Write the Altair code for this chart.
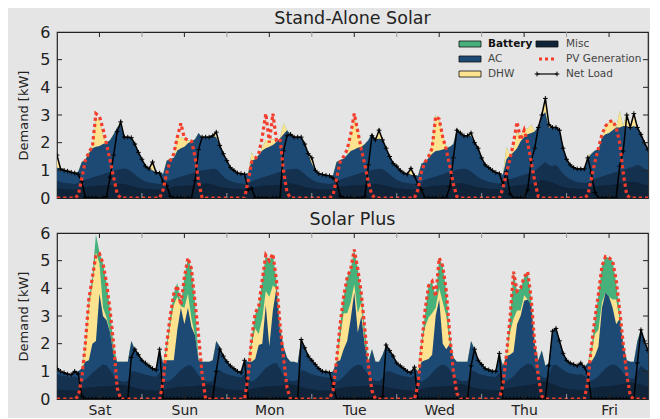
import altair as alt
import pandas as pd

# ---------------- data (hourly, one week starting Saturday 00:00) ----------------
DAY_NAMES = ["Sat", "Sun", "Mon", "Tue", "Wed", "Thu", "Fri"]
HOURS = list(range(168))
Y_TICKS = [0, 1, 2, 3, 4, 5, 6]
NOON_TICKS = [12, 36, 60, 84, 108, 132, 156]
MIDNIGHT_TICKS = [24, 48, 72, 96, 120, 144]
INNER_Y_TICKS = [1, 2, 3, 4, 5]

# bottom (darkest) load layer, shared by both panels [kW]
misc = [
    0.34, 0.33, 0.32, 0.32, 0.31, 0.31, 0.33, 0.37, 0.40, 0.42, 0.43, 0.44, 0.45, 0.46, 0.46, 0.47, 0.48, 0.50, 0.52, 0.50, 0.48, 0.45, 0.41, 0.37,
    0.35, 0.33, 0.32, 0.32, 0.31, 0.31, 0.32, 0.36, 0.39, 0.41, 0.43, 0.44, 0.45, 0.45, 0.46, 0.47, 0.49, 0.51, 0.53, 0.52, 0.49, 0.45, 0.41, 0.38,
    0.35, 0.34, 0.33, 0.32, 0.32, 0.31, 0.33, 0.37, 0.40, 0.42, 0.43, 0.45, 0.46, 0.46, 0.47, 0.48, 0.50, 0.52, 0.53, 0.51, 0.48, 0.44, 0.40, 0.37,
    0.35, 0.33, 0.32, 0.32, 0.31, 0.31, 0.33, 0.38, 0.41, 0.42, 0.44, 0.45, 0.45, 0.46, 0.47, 0.48, 0.49, 0.51, 0.52, 0.50, 0.47, 0.44, 0.41, 0.38,
    0.35, 0.34, 0.33, 0.32, 0.31, 0.31, 0.32, 0.37, 0.40, 0.42, 0.43, 0.44, 0.45, 0.46, 0.46, 0.47, 0.49, 0.52, 0.54, 0.52, 0.49, 0.45, 0.41, 0.38,
    0.36, 0.34, 0.33, 0.32, 0.32, 0.31, 0.33, 0.38, 0.41, 0.43, 0.45, 0.47, 0.48, 0.50, 0.52, 0.55, 0.60, 0.65, 0.62, 0.58, 0.55, 0.50, 0.44, 0.40,
    0.37, 0.35, 0.34, 0.33, 0.32, 0.32, 0.34, 0.38, 0.41, 0.43, 0.45, 0.46, 0.47, 0.48, 0.50, 0.52, 0.55, 0.58, 0.60, 0.58, 0.56, 0.52, 0.48, 0.45,
]

# ---- Stand-Alone Solar ----
up_base = [
    0.62, 0.58, 0.55, 0.53, 0.52, 0.51, 0.53, 0.60, 0.66, 0.70, 0.74, 0.78, 0.82, 0.86, 0.90, 0.94, 0.98, 1.02, 1.05, 1.07, 1.05, 0.95, 0.85, 0.74,
    0.66, 0.60, 0.56, 0.54, 0.52, 0.51, 0.52, 0.60, 0.65, 0.70, 0.73, 0.77, 0.81, 0.85, 0.89, 0.93, 0.97, 1.00, 1.02, 1.04, 1.06, 1.05, 0.92, 0.78,
    0.68, 0.61, 0.57, 0.54, 0.52, 0.51, 0.53, 0.60, 0.66, 0.70, 0.74, 0.78, 0.82, 0.86, 0.90, 0.94, 0.98, 1.02, 1.04, 1.05, 1.06, 0.98, 0.86, 0.75,
    0.66, 0.60, 0.56, 0.54, 0.52, 0.51, 0.53, 0.61, 0.67, 0.71, 0.75, 0.79, 0.83, 0.87, 0.91, 0.95, 0.98, 1.01, 1.04, 1.06, 1.05, 0.97, 0.86, 0.75,
    0.66, 0.60, 0.56, 0.54, 0.52, 0.51, 0.52, 0.60, 0.66, 0.70, 0.74, 0.78, 0.82, 0.86, 0.90, 0.94, 0.98, 1.02, 1.05, 1.06, 1.04, 0.96, 0.86, 0.76,
    0.68, 0.62, 0.58, 0.55, 0.53, 0.52, 0.54, 0.62, 0.68, 0.72, 0.76, 0.80, 0.84, 0.88, 0.92, 0.98, 1.08, 1.20, 1.30, 1.18, 1.15, 1.20, 1.05, 0.88,
    0.76, 0.68, 0.62, 0.58, 0.56, 0.55, 0.56, 0.63, 0.69, 0.74, 0.78, 0.82, 0.86, 0.90, 0.94, 0.98, 1.02, 1.06, 1.10, 1.14, 1.20, 1.15, 1.05, 0.95,
]
up_ac = [
    1.10, 1.05, 1.00, 0.97, 0.93, 0.90, 0.95, 1.30, 1.38, 1.62, 1.80, 1.85, 1.88, 1.95, 2.00, 2.10, 2.30, 2.55, 2.65, 2.20, 2.20, 2.18, 1.95, 1.65,
    1.40, 1.15, 1.05, 1.00, 0.92, 0.90, 0.88, 1.35, 1.42, 1.45, 1.72, 1.80, 1.85, 1.98, 2.05, 2.12, 2.35, 2.20, 2.20, 2.20, 2.25, 2.20, 1.90, 1.60,
    1.35, 1.10, 1.00, 0.90, 0.88, 0.86, 0.90, 1.35, 1.40, 1.55, 1.72, 1.80, 1.85, 1.92, 2.02, 2.15, 2.30, 2.45, 2.30, 2.20, 2.20, 2.20, 1.95, 1.60,
    1.25, 1.00, 0.88, 0.85, 0.82, 0.80, 0.82, 1.30, 1.37, 1.42, 1.55, 1.70, 1.75, 1.82, 1.85, 1.95, 2.10, 2.35, 2.10, 2.15, 2.10, 1.80, 1.50, 1.25,
    1.15, 1.00, 0.90, 0.86, 0.85, 0.80, 0.80, 1.25, 1.30, 1.45, 1.60, 1.70, 1.72, 1.75, 1.80, 1.85, 1.95, 2.50, 2.35, 2.25, 2.25, 2.25, 2.00, 1.80,
    1.45, 1.20, 1.10, 1.00, 0.92, 0.88, 0.85, 1.40, 1.55, 1.65, 1.80, 2.05, 2.20, 2.30, 2.35, 2.40, 2.60, 3.00, 3.10, 2.55, 2.55, 2.55, 2.45, 1.80,
    1.40, 1.20, 1.10, 1.05, 1.05, 1.05, 1.45, 1.60, 1.72, 1.75, 2.20, 2.30, 2.35, 2.45, 2.55, 2.55, 2.60, 2.60, 2.55, 2.60, 2.55, 2.30, 2.00, 1.75,
]
up_dhw = [
    0.45, 0, 0, 0, 0, 0, 0, 0, 0, 0.05, 0.10, 1.00, 0.95, 0.30, 0, 0, 0, 0, 0.10, 0, 0, 0, 0, 0,
    0, 0, 0, 0.30, 0, 0, 0, 0, 0, 0, 0.50, 0.40, 0.30, 0.10, 0, 0, 0, 0, 0, 0, 0, 0.18, 0, 0,
    0, 0, 0, 0, 0, 0, 0, 0.30, 0, 0, 0.10, 0.30, 0.25, 0.20, 0, 0, 0.40, 0, 0, 0, 0, 0, 0, 0,
    0.20, 0, 0, 0, 0, 0, 0, 0, 0, 0, 0, 0.50, 1.20, 0.60, 0.10, 0, 0, 0, 0, 0.30, 0, 0, 0, 0,
    0, 0, 0, 0, 0.22, 0, 0, 0, 0, 0, 0.40, 1.30, 1.10, 0.50, 0.05, 0, 0, 0, 0, 0, 0, 0.10, 0, 0,
    0, 0, 0, 0, 0, 0, 0, 0.45, 0, 0.20, 0.60, 0.20, 0.30, 0.20, 0.30, 0, 0, 0, 0.50, 0.10, 0, 0, 0, 0,
    0, 0, 0, 0, 0, 0, 0.10, 0, 0, 0, 0, 0.30, 0.40, 0.35, 0, 0.60, 0, 0.50, 0, 0.45, 0, 0, 0, 0,
]
up_bat = [0] * 168
up_pv = [
    0, 0, 0, 0, 0, 0, 0.10, 0.70, 1.35, 1.65, 1.85, 3.05, 2.95, 2.50, 1.95, 1.35, 0.75, 0.15, 0, 0, 0, 0, 0, 0,
    0, 0, 0, 0, 0, 0, 0.30, 0.90, 1.35, 1.60, 2.20, 2.70, 2.15, 2.10, 2.05, 1.50, 0.60, 0, 0, 0, 0, 0, 0, 0,
    0, 0, 0, 0, 0, 0, 0.60, 1.30, 1.42, 1.60, 2.20, 3.05, 2.00, 3.05, 2.10, 2.15, 1.00, 0.20, 0, 0, 0, 0, 0, 0,
    0, 0, 0, 0, 0, 0, 0.10, 0.70, 1.30, 1.50, 1.75, 2.30, 3.05, 2.40, 1.75, 1.20, 0.55, 0.10, 0, 0, 0, 0, 0, 0,
    0, 0, 0, 0, 0, 0, 0.30, 0.95, 1.30, 1.50, 1.80, 2.95, 2.85, 2.20, 1.75, 1.15, 0.50, 0.05, 0, 0, 0, 0, 0, 0,
    0, 0, 0, 0, 0, 0, 0.35, 0.90, 1.40, 2.00, 2.75, 2.10, 2.45, 2.00, 1.30, 0.60, 0.05, 0, 0, 0, 0, 0, 0, 0,
    0, 0, 0, 0, 0, 0, 0.10, 0.70, 1.30, 1.80, 2.30, 2.60, 2.75, 2.80, 2.55, 2.00, 0.90, 0.10, 0, 0, 0, 0, 0, 0,
]
up_net = [
    1.55, 1.05, 1.00, 0.97, 0.93, 0.90, 0.85, 0.60, 0.03, 0, 0, 0, 0, 0, 0.05, 0.75, 1.55, 2.40, 2.75, 2.20, 2.20, 2.18, 1.95, 1.65,
    1.40, 1.15, 1.05, 1.30, 0.92, 0.90, 0.58, 0.45, 0.07, 0, 0, 0, 0, 0, 0, 0.62, 1.75, 2.20, 2.20, 2.20, 2.25, 2.38, 1.90, 1.60,
    1.35, 1.10, 1.00, 0.90, 0.88, 0.86, 0.30, 0.35, 0, 0, 0, 0, 0, 0, 0, 0, 1.70, 2.25, 2.30, 2.20, 2.20, 2.20, 1.95, 1.60,
    1.45, 1.00, 0.88, 0.85, 0.82, 0.80, 0.72, 0.60, 0.07, 0, 0, 0, 0, 0, 0, 0.05, 1.20, 2.25, 2.10, 2.45, 2.10, 1.80, 1.50, 1.25,
    1.15, 1.00, 0.90, 0.86, 1.07, 0.80, 0.50, 0.30, 0, 0, 0, 0, 0, 0, 0, 0.40, 1.45, 2.45, 2.35, 2.25, 2.25, 2.35, 2.00, 1.80,
    1.45, 1.20, 1.10, 1.00, 0.92, 0.88, 0.50, 0.95, 0.15, 0, 0, 0, 0, 0.30, 1.35, 1.80, 2.55, 3.00, 3.60, 2.65, 2.55, 2.55, 2.45, 1.80,
    1.40, 1.20, 1.10, 1.05, 1.05, 1.05, 1.45, 0.90, 0.20, 0, 0, 0, 0, 0, 0, 1.15, 1.70, 3.00, 2.55, 3.05, 2.55, 2.30, 2.00, 1.75,
]

# ---- Solar Plus ----
lo_base = [
    0.90, 0.86, 0.83, 0.80, 0.78, 0.82, 0.72, 0.62, 0.70, 0.80, 0.95, 1.05, 1.15, 1.25, 1.22, 1.05, 0.85, 0.70, 0.65, 0.62, 0.65, 1.00, 1.00, 0.95,
    0.92, 0.88, 0.85, 0.82, 0.80, 0.95, 0.72, 0.62, 0.68, 0.78, 0.92, 1.05, 1.15, 1.22, 1.20, 1.05, 0.85, 0.70, 0.65, 0.62, 0.66, 1.02, 1.05, 0.95,
    0.90, 0.86, 0.84, 0.80, 0.78, 0.90, 0.72, 0.62, 0.70, 0.82, 0.98, 1.12, 1.20, 1.28, 1.30, 1.10, 0.85, 0.70, 0.66, 0.64, 0.70, 1.05, 1.02, 0.95,
    0.90, 0.86, 0.83, 0.80, 0.78, 0.78, 0.74, 0.62, 0.70, 0.80, 0.95, 1.08, 1.18, 1.25, 1.22, 1.05, 0.85, 0.72, 0.66, 0.64, 0.75, 1.00, 1.00, 0.95,
    0.90, 0.86, 0.83, 0.80, 0.78, 0.85, 0.72, 0.62, 0.70, 0.80, 0.95, 1.08, 1.18, 1.25, 1.20, 1.05, 0.88, 0.72, 0.66, 0.64, 0.66, 1.02, 1.00, 0.92,
    0.88, 0.85, 0.82, 0.80, 0.80, 0.95, 0.74, 0.64, 0.72, 0.82, 0.98, 1.10, 1.20, 1.28, 1.25, 1.10, 0.90, 0.80, 0.74, 0.90, 1.20, 1.25, 1.15, 1.05,
    0.98, 0.92, 0.90, 0.88, 0.90, 0.85, 0.75, 0.65, 0.72, 0.82, 0.98, 1.10, 1.20, 1.25, 1.22, 1.10, 0.95, 0.80, 0.75, 0.72, 1.00, 1.20, 1.10, 0.98,
]
lo_ac = [
    1.10, 1.00, 0.95, 0.90, 0.88, 1.00, 1.00, 1.10, 1.35, 1.40, 2.00, 2.10, 3.80, 3.00, 2.85, 2.40, 1.60, 1.35, 1.35, 1.35, 1.35, 2.10, 1.80, 1.60,
    1.40, 1.30, 1.20, 1.10, 1.05, 1.80, 1.30, 1.40, 1.40, 1.40, 2.50, 3.30, 2.70, 3.30, 2.60, 2.30, 1.40, 1.35, 1.35, 1.35, 1.40, 2.10, 1.90, 1.55,
    1.35, 1.20, 1.10, 1.00, 0.95, 1.40, 1.35, 1.35, 1.45, 1.95, 2.00, 3.40, 1.90, 3.20, 4.00, 2.50, 1.90, 1.50, 1.35, 1.35, 1.30, 2.15, 1.85, 1.55,
    1.40, 1.25, 1.10, 1.00, 0.98, 0.95, 1.00, 1.35, 1.40, 1.80, 2.10, 2.90, 3.85, 2.40, 3.00, 1.90, 1.35, 1.80, 1.35, 1.35, 1.60, 1.95, 1.75, 1.55,
    1.30, 1.20, 1.10, 1.00, 0.95, 1.15, 1.00, 1.35, 1.40, 1.45, 1.60, 3.00, 3.60, 2.00, 1.80, 2.00, 1.50, 1.35, 1.35, 1.35, 1.35, 2.10, 1.80, 1.40,
    1.25, 1.10, 1.05, 1.00, 1.00, 1.65, 1.20, 1.55, 1.60, 1.70, 2.70, 3.00, 3.55, 3.60, 3.40, 2.00, 1.40, 1.75, 1.20, 1.30, 2.45, 2.55, 2.10, 1.65,
    1.40, 1.30, 1.25, 1.20, 1.30, 1.15, 1.30, 1.35, 1.55, 1.90, 3.30, 3.85, 3.70, 3.30, 2.70, 2.90, 2.00, 1.40, 1.35, 1.35, 2.10, 2.50, 2.10, 1.75,
]
lo_dhw = [
    0, 0, 0, 0, 0, 0, 0, 0, 0.55, 2.00, 2.10, 3.20, 1.10, 0.30, 0.10, 0, 0, 0, 0, 0, 0, 0, 0, 0,
    0, 0, 0, 0, 0, 0, 0, 0.40, 1.30, 2.00, 1.20, 0.05, 0.60, 0.50, 0.30, 0, 0, 0, 0, 0, 0, 0, 0, 0,
    0, 0, 0, 0, 0, 0, 0, 0.60, 1.10, 0.40, 0.90, 0.50, 1.80, 0.90, 0, 0, 0, 0, 0, 0, 0, 0, 0, 0,
    0, 0, 0, 0, 0, 0, 0, 0.05, 0.80, 1.30, 1.00, 0.60, 0.30, 0.70, 0.50, 0, 0, 0, 0, 0, 0, 0, 0, 0,
    0, 0, 0, 0, 0, 0, 0.10, 0.60, 1.20, 1.50, 1.50, 0.30, 0.40, 1.50, 1.20, 0, 0, 0, 0, 0, 0, 0, 0, 0,
    0, 0, 0, 0, 0, 0, 0, 0.05, 0.80, 1.20, 0.50, 0.20, 0.20, 0, 0, 0, 0, 0, 0, 0, 0, 0, 0, 0,
    0, 0, 0, 0, 0, 0, 0, 0.30, 0.80, 0.60, 0.20, 0, 0, 0.30, 0.90, 0, 0, 0, 0, 0, 0, 0, 0, 0,
]
lo_bat = [
    0, 0, 0, 0, 0, 0, 0, 0, 0.10, 0.20, 0.30, 0.65, 0.40, 1.60, 1.25, 0.80, 0.30, 0, 0, 0, 0, 0, 0, 0,
    0, 0, 0, 0, 0, 0, 0, 0.20, 0.30, 0.40, 0.50, 0.05, 1.10, 1.30, 1.80, 1.20, 0, 0, 0, 0, 0, 0, 0, 0,
    0, 0, 0, 0, 0, 0, 0, 0.25, 0.50, 1.00, 1.40, 1.30, 1.30, 1.15, 0.30, 0.20, 0, 0, 0, 0, 0, 0, 0, 0,
    0, 0, 0, 0, 0, 0, 0, 0, 0.50, 0.60, 1.30, 1.20, 1.25, 1.60, 0.30, 0.60, 0, 0, 0, 0, 0, 0, 0, 0,
    0, 0, 0, 0, 0, 0, 0, 0.10, 0.50, 1.20, 1.10, 0.40, 1.10, 1.30, 0.90, 0.30, 0, 0, 0, 0, 0, 0, 0, 0,
    0, 0, 0, 0, 0, 0, 0, 0, 0.50, 1.70, 0.70, 0.80, 0.65, 1.00, 0.20, 0, 0, 0, 0, 0, 0, 0, 0, 0,
    0, 0, 0, 0, 0, 0, 0, 0.20, 0.50, 1.30, 1.30, 1.30, 1.40, 1.40, 0.60, 0.30, 0, 0, 0, 0, 0, 0, 0, 0,
]
lo_pv = [
    0, 0, 0, 0, 0, 0, 0.10, 0.75, 2.00, 3.60, 4.40, 5.20, 5.25, 4.90, 4.20, 3.20, 2.00, 0.40, 0, 0, 0, 0, 0, 0,
    0, 0, 0, 0, 0, 0, 0.60, 2.00, 3.00, 3.80, 4.10, 3.40, 4.40, 5.10, 4.70, 3.50, 2.30, 0.90, 0, 0, 0, 0, 0, 0,
    0, 0, 0, 0, 0, 0, 0.80, 2.20, 3.10, 3.35, 4.30, 5.20, 5.00, 5.25, 4.30, 2.70, 1.50, 0.40, 0, 0, 0, 0, 0, 0,
    0, 0, 0, 0, 0, 0, 0.30, 1.40, 2.70, 3.70, 4.40, 4.70, 5.40, 4.70, 3.80, 2.50, 1.20, 0.30, 0, 0, 0, 0, 0, 0,
    0, 0, 0, 0, 0, 0, 0.50, 1.90, 3.20, 4.10, 4.25, 3.70, 5.10, 4.80, 3.90, 2.30, 1.00, 0.20, 0, 0, 0, 0, 0, 0,
    0, 0, 0, 0, 0, 0, 0.50, 1.60, 2.90, 4.60, 3.90, 4.00, 4.40, 4.60, 3.60, 2.00, 0.80, 0.10, 0, 0, 0, 0, 0, 0,
    0, 0, 0, 0, 0, 0, 0.60, 1.90, 2.90, 3.80, 4.80, 5.15, 5.10, 5.00, 4.30, 3.20, 2.00, 0.90, 0.10, 0, 0, 0, 0, 0,
]
lo_net = [
    1.10, 1.00, 0.95, 0.90, 0.88, 1.00, 0.90, 0.10, 0, 0, 0, 0, 0, 0, 0, 0, 0, 0, 0, 0, 0, 1.50, 1.80, 1.60,
    1.40, 1.30, 1.20, 1.10, 1.05, 1.80, 0, 0, 0, 0, 0, 0, 0, 0, 0, 0, 0, 0, 0, 0, 0.05, 1.00, 1.80, 1.55,
    1.35, 1.20, 1.10, 1.00, 0.95, 1.40, 0, 0, 0, 0, 0, 0, 0, 0, 0, 0, 0, 0, 0, 0, 0, 2.15, 1.85, 1.55,
    1.40, 1.25, 1.10, 1.00, 0.98, 0.95, 0.50, 0, 0, 0, 0, 0, 0, 0, 0, 0, 0, 0, 0, 0, 0.10, 1.95, 1.75, 1.55,
    1.30, 1.20, 1.10, 1.00, 0.95, 1.15, 0, 0, 0, 0, 0, 0, 0, 0, 0, 0, 0, 0, 0, 0, 0, 1.20, 1.80, 1.40,
    1.25, 1.10, 1.05, 1.00, 1.00, 1.65, 0, 0, 0, 0, 0, 0, 0, 0, 0, 0, 0, 0, 0, 1.20, 2.45, 2.55, 2.10, 1.65,
    1.40, 1.30, 1.25, 1.20, 1.30, 1.15, 0.90, 0, 0, 0, 0, 0, 0, 0, 0, 0, 0, 0, 0, 0, 1.30, 2.50, 2.10, 1.75,
]

# ---------------- styling ----------------
W, H = 591, 166
BG = "#e5e5e5"
C_MISC = "#0f2339"
C_BASE = "#143150"
C_AC = "#1c4a75"
C_DHW = "#fde28f"
C_BAT = "#47b17b"
C_PV = "#f43d2b"
FONT = "DejaVu Sans"
PLUS = "M-1,0L1,0M0,-1L0,1"


def panel_df(base, ac, dhw, bat, pv, net):
    dhw_top = [a + d for a, d in zip(ac, dhw)]
    bat_top = [t + b for t, b in zip(dhw_top, bat)]
    return pd.DataFrame({
        "hour": HOURS, "misc": misc, "base": base, "ac": ac,
        "dhw_top": dhw_top, "bat_top": bat_top, "pv": pv, "net": net,
    })


def one_row():
    return alt.Chart(pd.DataFrame({"k": [0]}))


def panel(df, title, show_x, with_legend):
    xscale = alt.Scale(domain=[0, 167], nice=False, zero=False)
    yscale = alt.Scale(domain=[0, 6], nice=False)
    if show_x:
        xaxis = alt.Axis(values=NOON_TICKS, ticks=False, domain=False, grid=False,
                         labelExpr="['Sat','Sun','Mon','Tue','Wed','Thu','Fri'][floor(datum.value/24)]",
                         labelFontSize=14, labelColor="#222", labelPadding=4,
                         labelFlush=False, labelFont=FONT)
    else:
        xaxis = None
    yaxis = alt.Axis(values=Y_TICKS, format="d", ticks=False, domain=False, grid=False,
                     labelFontSize=16, labelColor="#222", labelPadding=7, labelFlush=False,
                     labelFont=FONT, titleFont=FONT, titleFontSize=13,
                     titleFontWeight="normal", titleColor="#222", titlePadding=9)

    def X(field="hour"):
        return alt.X(f"{field}:Q", scale=xscale, axis=xaxis, title=None)

    def Y(field):
        return alt.Y(f"{field}:Q", scale=yscale, axis=yaxis, title="Demand [kW]", stack=None)

    base = alt.Chart(df)
    layers = []
    for field, color in [("bat_top", C_BAT), ("dhw_top", C_DHW), ("ac", C_AC),
                         ("base", C_BASE), ("misc", C_MISC)]:
        layers.append(base.mark_area(color=color, opacity=1, interpolate="linear", clip=True)
                      .encode(x=X(), y=Y(field)))
    layers.append(base.mark_line(color="black", strokeWidth=1.5, clip=True).encode(x=X(), y=Y("net")))
    layers.append(base.mark_point(shape=PLUS, size=22, filled=False, color="black",
                                  strokeWidth=1, opacity=1, clip=True).encode(x=X(), y=Y("net")))
    layers.append(base.mark_line(color=C_PV, strokeWidth=3.2, strokeDash=[3.2, 3],
                                 clip=True).encode(x=X(), y=Y("pv")))

    # inward ticks (matplotlib classic style)
    major = alt.Chart(pd.DataFrame({"hour": NOON_TICKS}))
    minor = alt.Chart(pd.DataFrame({"hour": MIDNIGHT_TICKS}))
    yt = alt.Chart(pd.DataFrame({"v": INNER_Y_TICKS}))
    for src, col in [(major, "#222"), (minor, "#9a9a9a")]:
        layers.append(src.mark_rule(color=col, strokeWidth=1).encode(
            x=X(), y=alt.value(0), y2=alt.value(5)))
        layers.append(src.mark_rule(color=col, strokeWidth=1).encode(
            x=X(), y=alt.value(H), y2=alt.value(H - 5)))
    layers.append(yt.mark_rule(color="#222", strokeWidth=1).encode(
        y=Y("v"), x=alt.value(0), x2=alt.value(5)))
    layers.append(yt.mark_rule(color="#222", strokeWidth=1).encode(
        y=Y("v"), x=alt.value(W), x2=alt.value(W - 5)))

    if with_legend:
        rows = [12, 27, 42]
        c1_sw, c2_sw, c1_tx, c2_tx = 402, 479, 431, 509
        swatches = [(c1_sw, rows[0], C_BAT), (c1_sw, rows[1], C_AC),
                    (c1_sw, rows[2], C_DHW), (c2_sw, rows[0], C_MISC)]
        for sx, sy, col in swatches:
            layers.append(one_row().mark_rect(color=col, stroke="#111", strokeWidth=0.8).encode(
                x=alt.value(sx), x2=alt.value(sx + 22), y=alt.value(sy - 3), y2=alt.value(sy + 3)))
        layers.append(one_row().mark_rule(color=C_PV, strokeWidth=3, strokeDash=[3, 3]).encode(
            x=alt.value(c2_sw + 3), x2=alt.value(c2_sw + 19), y=alt.value(rows[1]), y2=alt.value(rows[1])))
        layers.append(one_row().mark_rule(color="black", strokeWidth=1.2).encode(
            x=alt.value(c2_sw + 1), x2=alt.value(c2_sw + 21), y=alt.value(rows[2]), y2=alt.value(rows[2])))
        for px in (c2_sw + 1, c2_sw + 21):
            layers.append(one_row().mark_point(shape=PLUS, size=22, filled=False, color="black",
                                               strokeWidth=1, opacity=1).encode(
                x=alt.value(px), y=alt.value(rows[2])))
        texts = [(c1_tx, rows[0], "Battery", "bold", "#111"),
                 (c1_tx, rows[1], "AC", "normal", "#444"),
                 (c1_tx, rows[2], "DHW", "normal", "#444"),
                 (c2_tx, rows[0], "Misc", "normal", "#444"),
                 (c2_tx, rows[1], "PV Generation", "normal", "#444"),
                 (c2_tx, rows[2], "Net Load", "normal", "#444")]
        for tx, ty, label, weight, col in texts:
            layers.append(one_row().mark_text(text=label, align="left", baseline="middle",
                                              fontSize=10.5, font=FONT, fontWeight=weight,
                                              color=col).encode(
                x=alt.value(tx), y=alt.value(ty)))

    return alt.layer(*layers).properties(
        width=W, height=H,
        title=alt.TitleParams(title, fontSize=17.5, font=FONT, fontWeight="normal",
                              color="#222", anchor="middle", frame="group", offset=-3),
    )


upper = panel(panel_df(up_base, up_ac, up_dhw, up_bat, up_pv, up_net),
              "Stand-Alone Solar", show_x=False, with_legend=True)
lower = panel(panel_df(lo_base, lo_ac, lo_dhw, lo_bat, lo_pv, lo_net),
              "Solar Plus", show_x=True, with_legend=False)

chart = (
    alt.vconcat(upper, lower, spacing=35, bounds="flush")
    .configure(background=BG, font=FONT,
               padding={"left": 9, "top": 0, "right": 0, "bottom": 0})
    .configure_view(stroke="#222", strokeWidth=1.2)
)

chart.save("out.html", embed_options={"renderer": "svg", "actions": False})
